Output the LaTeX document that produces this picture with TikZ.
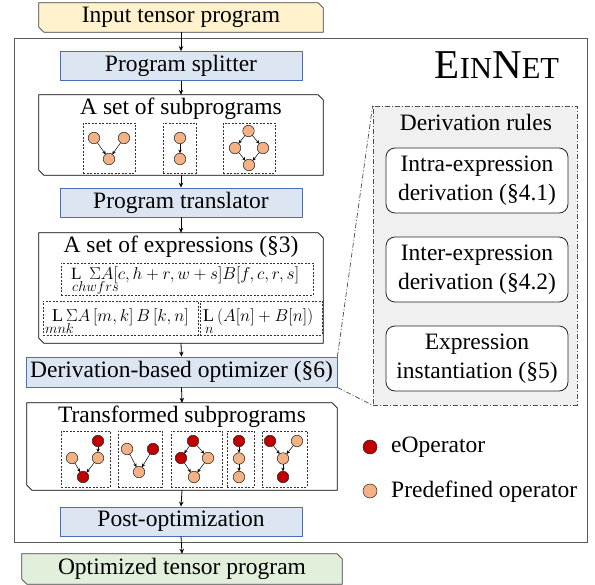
\documentclass[tikz,border=0pt]{standalone}
\usepackage{fontspec}
\setmainfont{Liberation Serif}
\usetikzlibrary{arrows.meta,backgrounds}

\definecolor{inyellow}{HTML}{FFF2CC}
\definecolor{bluefill}{HTML}{DCE6F3}
\definecolor{blueline}{HTML}{4A6FB5}
\definecolor{greenfill}{HTML}{E2EFDA}
\definecolor{eopcol}{HTML}{C00000}
\definecolor{popcol}{HTML}{F4B183}
\definecolor{rulefill}{HTML}{F0F0F0}

\newcommand\chamferdraw[2]{\path[#2] (#1.north west) -- ([xshift=-5pt]#1.north east) -- ([yshift=-5pt]#1.north east) -- (#1.south east) -- ([xshift=5pt]#1.south west) -- ([yshift=5pt]#1.south west) -- cycle;}

\tikzset{
  txt/.style={font=\fontsize{23.5}{29}\selectfont},
  holder/.style={rectangle, inner sep=0pt, minimum width=#1},
  bluebox/.style={rectangle, txt, draw=blueline, fill=bluefill, line width=0.8pt, minimum width=242pt, minimum height=29pt, inner sep=0pt},
  dbox/.style={rectangle, draw=black!80, dashed, dash pattern=on 2pt off 1.5pt, line width=0.6pt, inner sep=0pt},
  gc/.style={circle, draw=black!85, line width=0.5pt, minimum size=11.5pt, inner sep=0pt},
  po/.style={gc, fill=popcol},
  eo/.style={gc, fill=eopcol},
  ge/.style={-{Stealth[length=3.6pt,width=3.4pt]}, line width=0.5pt, shorten <=-0.3pt, shorten >=-0.3pt},
  ar/.style={-{Stealth[length=5pt,width=4.5pt]}, line width=0.8pt},
  mth/.style={font=\fontsize{17.2}{20}\selectfont, inner sep=0pt},
  mthb/.style={font=\fontsize{18}{20}\selectfont, inner sep=0pt},
  msub/.style={font=\fontsize{13.5}{15}\selectfont, inner sep=0pt},
  rulebox/.style={rectangle, txt, draw=black!85, rounded corners=9pt, fill=white, line width=0.8pt, minimum width=182pt, minimum height=65pt, align=center, inner sep=0pt},
  ddot/.style={draw=black!70, dash pattern=on 5pt off 2pt on 1pt off 2pt, line width=0.7pt},
}

\begin{document}
\begin{tikzpicture}[x=1pt,y=-1pt]
\useasboundingbox (0,0) rectangle (595,585);
\begin{scope}[on background layer]
  \fill[white] (0,0) rectangle (595,585);
\end{scope}

% outer frame
\draw[draw=black!65, line width=1pt] (14,39) rectangle (587,542);

% main chain
\node[holder=284pt, minimum height=29pt, txt] (inp) at (181,17.5) {Input tensor program};
\node[bluebox] (split) at (181,66) {Program splitter};
\node[holder=284pt, minimum height=80pt] (subs) at (181,135) {};
\node[txt, anchor=base] (subsT) at (181,115) {A set of subprograms};
\node[bluebox] (trans) at (181,202.5) {Program translator};
\node[holder=284pt, minimum height=110pt] (exprs) at (181,288) {};
\node[txt, anchor=base] (exprsT) at (181,253) {A set of expressions (§3)};
\node[bluebox, minimum width=311pt, minimum height=30pt] (opt) at (181.5,372) {Derivation-based optimizer (§6)};
\node[holder=310pt, minimum height=87pt] (trsub) at (182,446.5) {};
\node[txt, anchor=base] (trsubT) at (182,423) {Transformed subprograms};
\node[bluebox] (post) at (181,521.5) {Post-optimization};
\node[holder=320pt, minimum height=30pt, txt] (outp) at (182,569) {Optimized tensor program};

\begin{scope}[on background layer]
  \chamferdraw{inp}{fill=inyellow, draw=black!75, line width=0.8pt}
  \chamferdraw{subs}{fill=white, draw=black, line width=0.8pt}
  \chamferdraw{exprs}{fill=white, draw=black, line width=0.8pt}
  \chamferdraw{trsub}{fill=white, draw=black, line width=0.8pt}
  \chamferdraw{outp}{fill=greenfill, draw=black!75, line width=0.8pt}
\end{scope}

\draw[ar] (inp.south) -- (split.north);
\draw[ar] (split.south) -- (subs.north);
\draw[ar] (subs.south) -- (trans.north);
\draw[ar] (trans.south) -- (exprs.north);
\draw[ar] (exprs.south) -- (opt.north);
\draw[ar] (opt.south) -- (trsub.north);
\draw[ar] (trsub.south) -- (post.north);
\draw[ar] (post.south) -- (outp.north);

% subprogram graphs
\node[dbox, minimum width=52pt, minimum height=50pt] (d1) at (109,148) {};
\node[dbox, minimum width=33pt, minimum height=50pt] (d2) at (179.5,148) {};
\node[dbox, minimum width=52pt, minimum height=50pt] (d3) at (249,148) {};
\node[po] (a1) at (94,138) {};
\node[po] (a2) at (124,138) {};
\node[po] (a3) at (109,159) {};
\draw[ge] (a1) -- (a3); \draw[ge] (a2) -- (a3);
\node[po] (b1) at (180,138) {};
\node[po] (b2) at (180,159) {};
\draw[ge] (b1) -- (b2);
\node[po] (c1) at (248.5,131) {};
\node[po] (c2) at (235,148) {};
\node[po] (c3) at (263,148) {};
\node[po] (c4) at (249,165) {};
\draw[ge] (c1) -- (c2); \draw[ge] (c1) -- (c3); \draw[ge] (c2) -- (c4); \draw[ge] (c3) -- (c4);

% expressions
\node[dbox, minimum width=252pt, minimum height=32pt] (x1) at (187,279) {};
\node[dbox, minimum width=155pt, minimum height=34pt] (x2) at (120.5,318) {};
\node[dbox, minimum width=122pt, minimum height=34pt] (x3) at (261,318) {};
\node[mth, anchor=base west] (x1m) at (71,280) {$\mathrm{L}\;\,\Sigma A[c,h+r,w+s]B[f,c,r,s]$};
\node[msub, anchor=base west] (x1s) at (72,291.5) {$chwfrs$};
\node[mthb, anchor=base west] (x2m) at (52,322) {$\mathrm{L}\,\Sigma A\,[m,k]\,B\,[k,n]$};
\node[msub, anchor=base west] (x2s) at (45,334) {$mnk$};
\node[mthb, anchor=base west] (x3m) at (203,322) {$\mathrm{L}\,(A[n]+B[n])$};
\node[msub, anchor=base west] (x3s) at (205,334) {$n$};

% transformed graphs
\node[dbox, minimum width=49pt, minimum height=56pt] (t1) at (85.5,459) {};
\node[dbox, minimum width=44pt, minimum height=56pt] (t2) at (140,459) {};
\node[dbox, minimum width=51pt, minimum height=56pt] (t3) at (196.5,459) {};
\node[dbox, minimum width=27pt, minimum height=56pt] (t4) at (240.5,459) {};
\node[dbox, minimum width=45pt, minimum height=56pt] (t5) at (284.5,459) {};
% g1
\node[eo] (g1a) at (98,441) {};
\node[po] (g1b) at (72,458) {};
\node[po] (g1c) at (98,458) {};
\node[eo] (g1d) at (83,477) {};
\draw[ge] (g1a) -- (g1c); \draw[ge] (g1b) -- (g1d); \draw[ge] (g1c) -- (g1d);
% g2
\node[po] (g2a) at (127,449) {};
\node[eo] (g2b) at (153,449) {};
\node[po] (g2c) at (139,472) {};
\draw[ge] (g2a) -- (g2c); \draw[ge] (g2b) -- (g2c);
% g3
\node[eo] (g3a) at (193,441) {};
\node[eo] (g3b) at (181,458) {};
\node[po] (g3c) at (208,458) {};
\node[po] (g3d) at (194,477) {};
\draw[ge] (g3a) -- (g3b); \draw[ge] (g3a) -- (g3c); \draw[ge] (g3b) -- (g3d); \draw[ge] (g3c) -- (g3d);
% g4
\node[eo] (g4a) at (239,441) {};
\node[po] (g4b) at (239,458.5) {};
\node[po] (g4c) at (239,477) {};
\draw[ge] (g4a) -- (g4b); \draw[ge] (g4b) -- (g4c);
% g5
\node[eo] (g5a) at (270,441) {};
\node[po] (g5b) at (297,441) {};
\node[po] (g5c) at (283,458.5) {};
\node[eo] (g5d) at (283,477) {};
\draw[ge] (g5a) -- (g5c); \draw[ge] (g5b) -- (g5c); \draw[ge] (g5c) -- (g5d);

% EinNet title
\node[anchor=base, font=\fontsize{41}{42}\selectfont, inner sep=0pt] (title) at (497,79) {E{\fontsize{30.5}{31}\selectfont IN}N{\fontsize{30.5}{31}\selectfont ET}};

% derivation rules panel
\node[rectangle, ddot, fill=rulefill, minimum width=204pt, minimum height=299pt, inner sep=0pt] (rules) at (475,255.5) {};
\node[txt, anchor=base] (rulesT) at (476,131) {Derivation rules};
\node[rulebox] (r1) at (477,180.5) {Intra-expression\\derivation (§4.1)};
\node[rulebox] (r2) at (477,269.5) {Inter-expression\\derivation (§4.2)};
\node[rulebox] (r3) at (477,358.5) {Expression\\instantiation (§5)};
\draw[ddot] (opt.north east) -- (rules.north west);
\draw[ddot] (opt.south east) -- (rules.south west);

% legend
\node[eo, minimum size=14pt] (leg1) at (370,447) {};
\node[txt, anchor=base west, inner sep=0pt] (leg1T) at (391,453) {eOperator};
\node[po, minimum size=14pt] (leg2) at (370,491) {};
\node[txt, anchor=base west, inner sep=0pt] (leg2T) at (391,497) {Predefined operator};
\end{tikzpicture}
\end{document}
